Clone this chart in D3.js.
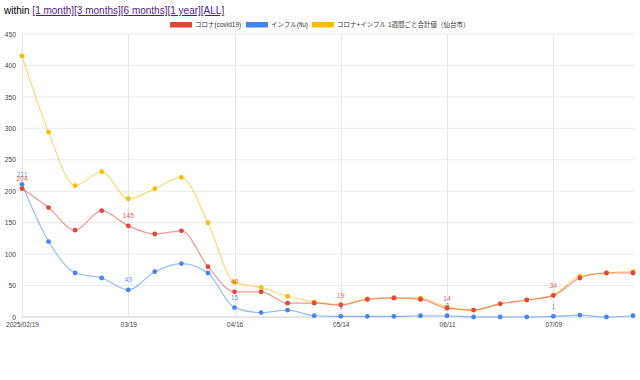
<!DOCTYPE html>
<html>
<head>
<meta charset="utf-8">
<script src="https://cdn.jsdelivr.net/npm/d3@7"></script>
<style>
  body { margin: 0; background: #fff; }
  svg { position: absolute; left: 0; top: 0; font-family: Arial, "Liberation Sans", "Noto Sans CJK JP", sans-serif; }
</style>
</head>
<body>
<svg id="chart"></svg>
<script>
var w = 640;
var h = 380;

// weekly figures, Sendai
var dates = ["2025-02-19", "2025-02-26", "2025-03-05", "2025-03-12", "2025-03-19", "2025-03-26",
  "2025-04-02", "2025-04-09", "2025-04-16", "2025-04-23", "2025-04-30", "2025-05-07",
  "2025-05-14", "2025-05-21", "2025-05-28", "2025-06-04", "2025-06-11", "2025-06-18",
  "2025-06-25", "2025-07-02", "2025-07-09", "2025-07-16", "2025-07-23", "2025-07-30"];
var covid = [204, 174, 138, 169, 145, 132, 137, 80, 40, 40, 22, 22, 19, 28, 30, 28, 14, 11, 21, 27, 34, 62, 70, 70];
var flu = [211, 120, 70, 62, 43, 72, 85, 70, 15, 7, 11, 2, 1, 1, 1, 2, 2, 0, 0, 0, 1, 3, 0, 2];
var total = [415, 294, 209, 231, 188, 204, 222, 150, 55, 47, 33, 24, 20, 29, 31, 30, 16, 11, 21, 27, 35, 65, 70, 72];

var seriesNames = ["コロナ(covid19)", "インフル(flu)", "コロナ+インフル 1週間ごと合計値（仙台市）"];
var seriesColors = ["#ea4335", "#4285f4", "#fbbc04"];
var tickIdx = [0, 4, 8, 12, 16, 20];
var tickLabels = ["2025/02/19", "03/19", "04/16", "05/14", "06/11", "07/09"];
var yTicks = [0, 50, 100, 150, 200, 250, 300, 350, 400, 450];
var links = ["[1 month]", "[3 months]", "[6 months]", "[1 year]", "[ALL]"];

var parse = d3.timeParse("%Y-%m-%d");
var days = dates.map(parse);

var svg = d3.select("#chart").attr("width", w).attr("height", h);

// header line with the range links
var head = svg.append("text")
    .attr("x", 4)
    .attr("y", 14)
    .style("font-size", "10px")
    .style("fill", "#000");
head.append("tspan").text("within ");
links.forEach(function (t) {
  head.append("tspan").text(t)
      .style("fill", "#551a8b")
      .style("text-decoration", "underline");
});

var x = d3.scaleTime()
    .domain([days[0], days[days.length - 1]])
    .range([22, 633]);
var y = d3.scaleLinear()
    .domain([0, 450])
    .range([317, 34]);

// grid
svg.append("g").selectAll("line")
    .data(yTicks)
    .enter().append("line")
    .attr("x1", 22).attr("x2", 634)
    .attr("y1", function (d) { return y(d); })
    .attr("y2", function (d) { return y(d); })
    .style("stroke", function (d) { return d === 0 ? "#cccccc" : "#ebebeb"; })
    .style("stroke-width", 1);

svg.append("g").selectAll("line")
    .data(tickIdx)
    .enter().append("line")
    .attr("x1", function (i) { return Math.round(x(days[i])) + 0.5; })
    .attr("x2", function (i) { return Math.round(x(days[i])) + 0.5; })
    .attr("y1", 34).attr("y2", 317)
    .style("stroke", "#e6e6e6")
    .style("stroke-width", 1);

// axis labels
var yAxis = d3.axisLeft(y).tickValues(yTicks).tickSize(0).tickPadding(6);
var gy = svg.append("g").attr("transform", "translate(22,0)").call(yAxis);
gy.select(".domain").remove();
gy.selectAll("text").style("font-size", "6.8px").style("fill", "#444");

var xAxis = d3.axisBottom(x)
    .tickValues(tickIdx.map(function (i) { return days[i]; }))
    .tickFormat(function (d, i) { return tickLabels[i]; })
    .tickSize(0).tickPadding(5);
var gx = svg.append("g").attr("transform", "translate(0,317)").call(xAxis);
gx.select(".domain").remove();
gx.selectAll("text").style("font-size", "6.6px").style("fill", "#444");

// lines and markers, total first so covid sits on top
var series = [
  { name: seriesNames[2], values: total, color: seriesColors[2], labels: false },
  { name: seriesNames[1], values: flu, color: seriesColors[1], labels: true },
  { name: seriesNames[0], values: covid, color: seriesColors[0], labels: true }
];

var line = d3.line()
    .x(function (d, i) { return x(days[i]); })
    .y(function (d) { return y(d); })
    .curve(d3.curveMonotoneX);

series.forEach(function (s) {
  svg.append("path")
      .datum(s.values)
      .attr("d", line)
      .style("fill", "none")
      .style("stroke", s.color)
      .style("stroke-opacity", 0.55)
      .style("stroke-width", 1.2);
});

series.forEach(function (s) {
  svg.append("g").selectAll("circle")
      .data(s.values)
      .enter().append("circle")
      .attr("cx", function (d, i) { return x(days[i]); })
      .attr("cy", function (d) { return y(d); })
      .attr("r", 2.4)
      .style("fill", s.color);
});

// value annotations on the tick weeks
series.filter(function (s) { return s.labels; }).forEach(function (s) {
  svg.append("g").selectAll("text")
      .data(tickIdx)
      .enter().append("text")
      .attr("x", function (i) { return x(days[i]); })
      .attr("y", function (i) { return y(s.values[i]) - 7.5; })
      .attr("text-anchor", "middle")
      .style("font-size", "6.8px")
      .style("fill", s.color)
      .style("fill-opacity", 0.85)
      .text(function (i) { return s.values[i]; });
});

// legend
var legX = [170, 246, 312];
var legend = svg.append("g");
[0, 1, 2].forEach(function (k) {
  legend.append("rect")
      .attr("x", legX[k]).attr("y", 22)
      .attr("width", 22).attr("height", 5.5)
      .style("fill", seriesColors[k]);
  legend.append("text")
      .attr("x", legX[k] + 25).attr("y", 27.3)
      .style("font-size", "6.5px")
      .style("fill", "#333")
      .text(seriesNames[k]);
});
</script>
</body>
</html>
